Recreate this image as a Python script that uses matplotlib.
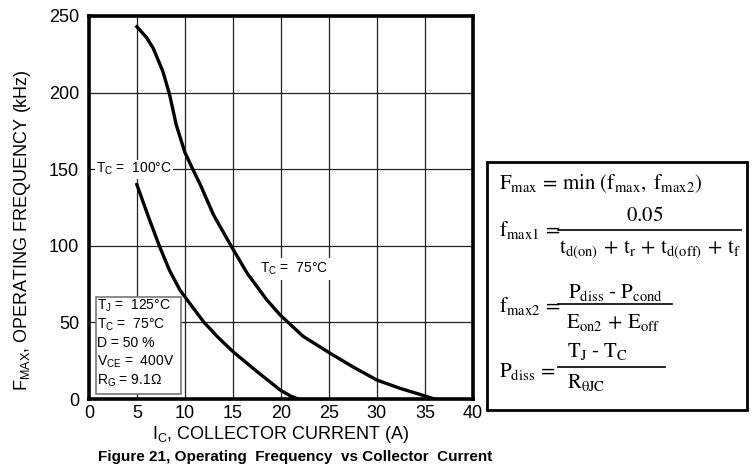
import matplotlib
matplotlib.use("Agg")
import matplotlib.pyplot as plt
from matplotlib.patches import Rectangle
from matplotlib.lines import Line2D

plt.rcParams['font.family'] = ['Liberation Sans', 'DejaVu Sans']
plt.rcParams['mathtext.fontset'] = 'custom'
plt.rcParams['mathtext.rm'] = 'Liberation Sans'
plt.rcParams['mathtext.it'] = 'Liberation Sans:italic'
plt.rcParams['mathtext.bf'] = 'Liberation Sans:bold'

# Data
ic_75 = [5, 6.0, 6.7, 7.7, 8.4, 9.1, 10, 10.9, 11.6, 13, 14.9, 16.5, 18.5, 19.9,
         22.3, 25.1, 27.5, 30, 32.4, 34.5, 36]
f_75 = [243, 236, 229, 214, 199, 179, 161, 149, 140, 120, 99, 82, 65, 55,
        41, 30, 21, 12.4, 7, 3, 0]
ic_100 = [5, 6.2, 7.4, 8.4, 9.5, 10.8, 12, 13.5, 15, 17.5, 19.9, 21, 21.8]
f_100 = [140, 119, 99, 84, 71, 60, 50, 40, 31, 18, 6, 2, 0]

x_ticks = [0, 5, 10, 15, 20, 25, 30, 35, 40]
y_ticks = [0, 50, 100, 150, 200, 250]

W, H = 753, 470
fig = plt.figure(figsize=(W / 100, H / 100), dpi=100)
ax = fig.add_axes([0.118, 0.151, 0.510, 0.815])

ax.plot(ic_75, f_75, color='black', lw=2.4, zorder=3, solid_joinstyle='round')
ax.plot(ic_100, f_100, color='black', lw=2.4, zorder=3, solid_joinstyle='round')

ax.set_xlim(0, 40)
ax.set_ylim(0, 250)
ax.set_xticks(x_ticks)
ax.set_yticks(y_ticks)
ax.grid(True, color='#222222', lw=0.9)
ax.tick_params(length=0, labelsize=13)
ax.tick_params(axis='y', pad=7)
ax.tick_params(axis='x', pad=4)
for s in ax.spines.values():
    s.set_linewidth(2.6)

ax.set_xlabel(r"I$_\mathrm{C}$, COLLECTOR CURRENT (A)", fontsize=13, labelpad=2)
ax.set_ylabel(r"F$_\mathrm{MAX}$, OPERATING FREQUENCY (kHz)", fontsize=13)
ax.yaxis.set_label_coords(-0.145, 0.44)

ax.text(0.75, 150, r"T$_\mathrm{C}$ =  100°C", fontsize=10, va='center', ha='left',
        bbox=dict(facecolor='white', edgecolor='none', pad=1), zorder=4)
ax.text(17.8, 85, r"T$_\mathrm{C}$ =  75°C", fontsize=10, va='center', ha='left',
        bbox=dict(facecolor='white', edgecolor='none', pad=2), zorder=4)

cond_lines = [r"T$_\mathrm{J}$ =  125°C", r"T$_\mathrm{C}$ =  75°C", "D = 50 %",
              r"V$_\mathrm{CE}$ =  400V", r"R$_\mathrm{G}$ = 9.1Ω"]
ax.add_patch(Rectangle((0.7, 3.3), 8.85, 63.5, facecolor='white',
                       edgecolor='#777777', lw=1.2, zorder=4))
for i, t in enumerate(cond_lines):
    ax.text(0.85, 61 - i * 12.3, t, fontsize=10, va='center', ha='left', zorder=5)

fig.text(0.392, 0.012, "Figure 21, Operating  Frequency  vs Collector  Current",
         fontsize=11, fontweight='bold', ha='center', va='bottom')

# formula box (pixel positions converted to figure fraction)
def fx(px):
    return px / W

def fy(py):
    return 1 - py / H

fig.patches.append(Rectangle((fx(487), fy(410)), 260 / W, 248 / H,
                             transform=fig.transFigure, facecolor='white',
                             edgecolor='black', lw=2.0))
fkw = dict(fontsize=15, math_fontfamily='stix', va='baseline')

def ftxt(px, py, s, ha='left'):
    fig.text(fx(px), fy(py), s, ha=ha, **fkw)

def fbar(x0, x1, py):
    fig.add_artist(Line2D([fx(x0), fx(x1)], [fy(py), fy(py)],
                          transform=fig.transFigure, color='black', lw=1.2))

ftxt(499, 189, r"$\mathrm{F_{max}\,=\,min\ (f_{max},\ f_{max2})}$")

ftxt(499, 236, r"$\mathrm{f_{max1}\,=}$")
ftxt(645, 221, r"$\mathrm{0.05}$", ha='center')
fbar(558, 741, 230)
ftxt(650, 253, r"$\mathrm{t_{d(on)}\,+\,t_r\,+\,t_{d(off)}\,+\,t_f}$", ha='center')

ftxt(499, 312, r"$\mathrm{f_{max2}\,=}$")
ftxt(615, 298, r"$\mathrm{P_{diss}\ \text{-}\ P_{cond}}$", ha='center')
fbar(558, 672, 304)
ftxt(613, 328, r"$\mathrm{E_{on2}\,+\,E_{off}}$", ha='center')

ftxt(499, 377, r"$\mathrm{P_{diss}\,=}$")
ftxt(597, 357, r"$\mathrm{T_J\ \text{-}\ T_C}$", ha='center')
fbar(558, 665, 367)
ftxt(586, 388, r"$\mathrm{R_{\theta JC}}$", ha='center')

fig.savefig("out.png", dpi=100)
